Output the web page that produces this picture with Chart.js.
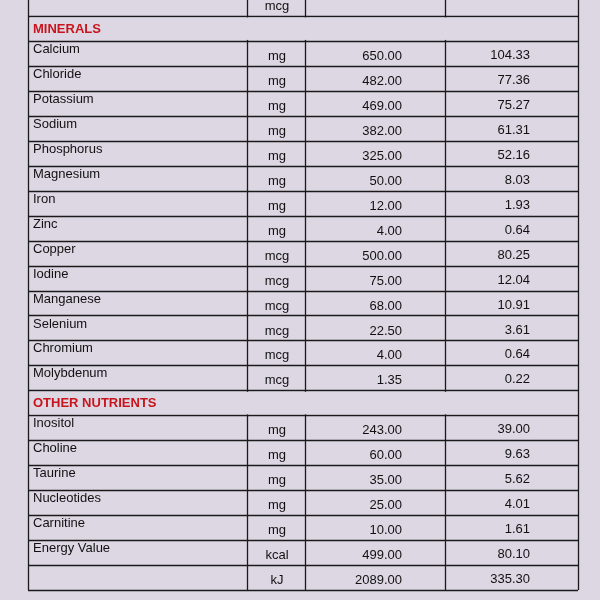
<!DOCTYPE html>
<html><head><meta charset="utf-8">
<script src="https://cdn.jsdelivr.net/npm/chart.js@4"></script>
<style>html,body{margin:0;padding:0;background:#dcd7e3}#w{width:600px;height:600px}</style>
</head><body><div id="w"><canvas id="c"></canvas></div>
<script>
const names = ["", "MINERALS", "Calcium", "Chloride", "Potassium", "Sodium", "Phosphorus", "Magnesium", "Iron", "Zinc", "Copper", "Iodine", "Manganese", "Selenium", "Chromium", "Molybdenum", "OTHER NUTRIENTS", "Inositol", "Choline", "Taurine", "Nucleotides", "Carnitine", "Energy Value", ""];
const units = ["mcg", "", "mg", "mg", "mg", "mg", "mg", "mg", "mg", "mg", "mcg", "mcg", "mcg", "mcg", "mcg", "mcg", "", "mg", "mg", "mg", "mg", "mg", "kcal", "kJ"];
const amounts = [null, null, 650.00, 482.00, 469.00, 382.00, 325.00, 50.00, 12.00, 4.00, 500.00, 75.00, 68.00, 22.50, 4.00, 1.35, null, 243.00, 60.00, 35.00, 25.00, 10.00, 499.00, 2089.00];
const per100 = [null, null, 104.33, 77.36, 75.27, 61.31, 52.16, 8.03, 1.93, 0.64, 80.25, 12.04, 10.91, 3.61, 0.64, 0.22, null, 39.00, 9.63, 5.62, 4.01, 1.61, 80.10, 335.30];
const headers = ["MINERALS", "OTHER NUTRIENTS"];
const colEdges = [28, 247, 305, 445, 578];

const tablePlugin = {
  id: 'table',
  beforeDraw(chart) {
    const ctx = chart.ctx;
    ctx.save(); ctx.fillStyle = '#dcd7e3'; ctx.fillRect(0, 0, chart.width, chart.height); ctx.restore();
  },
  afterDraw(chart) {
    const ctx = chart.ctx, y = chart.scales.y, x = chart.scales.x;
    const top = y.getPixelForValue(y.min), bot = y.getPixelForValue(y.max);
    ctx.save();
    ctx.strokeStyle = '#1a1a1a'; ctx.lineWidth = 1.3;
    for (let i = 1; i <= names.length; i++) {
      const py = Math.round(y.getPixelForValue(i)) + 0.5;
      const isHead = headers.includes(names[i]);
      ctx.beginPath();
      ctx.moveTo(x.getPixelForValue(colEdges[0]), py);
      ctx.lineTo(x.getPixelForValue(colEdges[4]), py);
      ctx.stroke();
    }
    colEdges.forEach((cx, k) => {
      const px = Math.round(x.getPixelForValue(cx)) + 0.5;
      ctx.beginPath(); ctx.moveTo(px, top); ctx.lineTo(px, bot); ctx.stroke();
    });
    // header rows: cover inner vertical lines
    names.forEach((n, i) => {
      if (!headers.includes(n)) return;
      const y0 = y.getPixelForValue(i) + 1.5, y1 = y.getPixelForValue(i + 1) - 1;
      ctx.fillStyle = '#dcd7e3';
      ctx.fillRect(x.getPixelForValue(colEdges[0]) + 2, y0, x.getPixelForValue(colEdges[4]) - x.getPixelForValue(colEdges[0]) - 3, y1 - y0);
    });
    ctx.textBaseline = 'middle';
    names.forEach((n, i) => {
      const yc = y.getPixelForValue(i + 0.5);
      if (headers.includes(n)) {
        ctx.fillStyle = '#c8141c'; ctx.font = 'bold 13px "Liberation Sans", Arial';
        ctx.textAlign = 'left'; ctx.fillText(n, 33, yc + 1);
        return;
      }
      ctx.fillStyle = '#111';
      ctx.font = '13px "Liberation Sans", Arial';
      ctx.textAlign = 'left';
      if (n) ctx.fillText(n, 33, yc - 4);
      ctx.textAlign = 'center';
      if (units[i]) ctx.fillText(units[i], 277, yc + 3);
      ctx.textAlign = 'right';
      if (amounts[i] !== null) ctx.fillText(amounts[i].toFixed(2), 402, yc + 3);
      if (per100[i] !== null) ctx.fillText(per100[i].toFixed(2), 530, yc + 2);
    });
    ctx.restore();
  }
};

new Chart(document.getElementById('c'), {
  type: 'scatter',
  data: { datasets: [{ data: amounts.map((a, i) => ({ x: 300, y: i + 0.5 })), pointRadius: 0 }] },
  options: {
    responsive: true, maintainAspectRatio: false, animation: false,
    layout: { padding: { left: 0, right: 0, top: 0, bottom: 10 } },
    plugins: { legend: { display: false }, tooltip: { enabled: false } },
    scales: {
      x: { type: 'linear', min: 0, max: 600, display: false },
      y: { type: 'linear', min: 0.36, max: 24, reverse: true, display: false }
    }
  },
  plugins: [tablePlugin]
});
</script></body></html>
